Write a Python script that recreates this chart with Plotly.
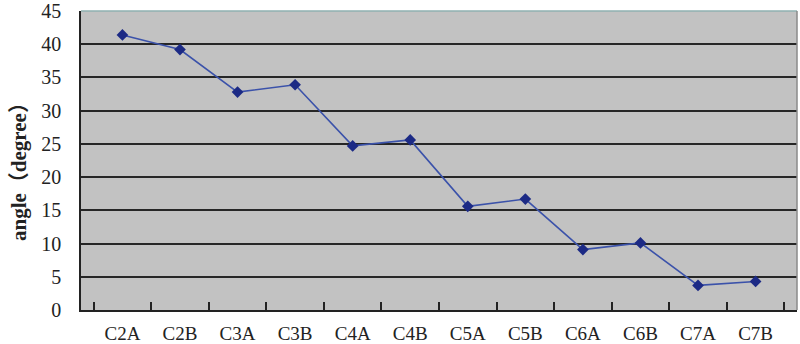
import plotly.graph_objects as go

categories = ["C2A", "C2B", "C3A", "C3B", "C4A", "C4B", "C5A", "C5B", "C6A", "C6B", "C7A", "C7B"]
angles = [41.4, 39.2, 32.8, 33.9, 24.7, 25.6, 15.6, 16.7, 9.1, 10.1, 3.7, 4.3]
y_ticks = [0, 5, 10, 15, 20, 25, 30, 35, 40, 45]

fig = go.Figure()
fig.add_trace(go.Scatter(
    x=categories, y=angles, mode="lines+markers",
    line=dict(color="#3b52aa", width=1.6),
    marker=dict(symbol="diamond", size=9, color="#1c2a85"),
))

font_family = "Liberation Serif, Noto Sans CJK SC, DejaVu Serif, serif"
fig.update_layout(
    width=800, height=344,
    margin=dict(l=81, r=3, t=11, b=34),
    paper_bgcolor="white",
    plot_bgcolor="#c2c2c2",
    showlegend=False,
    font=dict(family=font_family, size=20, color="#222222"),
)
fig.update_xaxes(
    type="category", showgrid=False, tickson="boundaries",
    ticks="inside", ticklen=8, tickcolor="#222222", tickwidth=1.5,
    showline=True, linecolor="#222222", linewidth=1.5, mirror=False,
    tickfont=dict(size=19, family=font_family),
    ticklabelstandoff=5,
    automargin=False,
)
fig.update_yaxes(
    range=[0, 45], tickvals=y_ticks,
    showgrid=True, gridcolor="#262626", gridwidth=1.5,
    showline=True, linecolor="#222222", linewidth=1.5, mirror=False,
    ticks="", tickfont=dict(size=20, family=font_family),
    ticklabelstandoff=14,
    zeroline=False,
    automargin=False,
)
# plot frame: light top edge and grey right edge as in the reference
fig.add_shape(type="line", xref="paper", yref="paper", x0=0, x1=1, y0=1, y1=1,
              line=dict(color="#8fb0b0", width=1.5), layer="above")
fig.add_shape(type="line", xref="paper", yref="paper", x0=1, x1=1, y0=0, y1=1,
              line=dict(color="#8a8a8a", width=1.5), layer="above")
cjk = "font-family:'Noto Sans CJK SC'"
fig.add_annotation(
    xref="paper", yref="paper",
    x=(17 - 81) / 716, y=(344 - 34 - 167) / 299,
    text=f"<b>angle<span style=\"{cjk}\">（</span>degree<span style=\"{cjk}\">）</span></b>",
    textangle=-90, showarrow=False,
    font=dict(size=21, family=font_family, color="#222222"),
    xanchor="center", yanchor="middle",
)
fig.write_html(
    "out.html",
    config={"displayModeBar": False},
    post_script="document.body.style.margin='0px';document.body.style.overflow='hidden';",
)
